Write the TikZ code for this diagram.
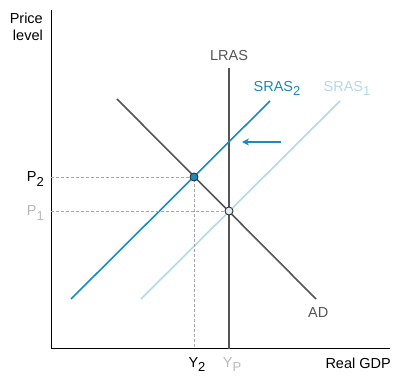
\documentclass[tikz,border=0pt]{standalone}
\usepackage{fontspec}
\setmainfont{Liberation Sans}
\usetikzlibrary{positioning}
\usetikzlibrary{arrows.meta}
\definecolor{curvegray}{HTML}{555555}
\definecolor{srasblue}{HTML}{1A8AC0}
\definecolor{sraslight}{HTML}{B3DAE6}
\definecolor{labellight}{HTML}{B8B8B8}
\newcommand{\lowsub}[1]{\raisebox{-4.5pt}{\fontsize{13}{15}\selectfont #1}}
\tikzset{
  axisline/.style= {
    line width = 1pt,
    color = black
  },
  curve/.style= {
    line width = 1.6pt,
    color = #1
  },
  guide/.style= {
    dashed,
    dash pattern = on 3pt off 2pt,
    line width = 0.5pt,
    color = black!35
  },
  eqpoint/.style= {
    circle,
    draw = black!80,
    fill = #1,
    line width = 0.9pt,
    inner sep = 0pt,
    minimum size = 8pt
  },
  lbl/.style= {
    font = \fontsize{14.5}{16.5}\selectfont,
    inner sep = 0pt,
    text = #1
  }
}
\begin{document}
\begin{tikzpicture}[x=1pt,y=-1pt]
  \useasboundingbox (0,0) rectangle (400,385);

  % axes
  \coordinate (origin) at (51,349);
  \coordinate (ytop) at (51,10);
  \coordinate (xend) at (390,349);
  \draw[axisline] (ytop) -- (origin) -- (xend);
  \node[lbl=black,align=right,anchor=north east] (ylab) at (43,13) {Price\\level};
  \node[lbl=black,anchor=base east] (xlab) at (391,369) {Real GDP};

  % LRAS
  \coordinate (lrastop) at (229,68);
  \coordinate (lrasbot) at (229,349);
  \draw[curve=curvegray] (lrastop) -- (lrasbot);
  \node[lbl=curvegray,above=7pt of lrastop] (lraslab) {LRAS};

  % AD
  \coordinate (adtop) at (117,99);
  \coordinate (adbot) at (316,299);
  \draw[curve=curvegray] (adtop) -- (adbot);
  \node[lbl=curvegray,below right=8pt and -8pt of adbot] (adlab) {AD};

  % SRAS curves
  \coordinate (s2bot) at (71,299);
  \coordinate (s2top) at (270,101);
  \draw[curve=srasblue] (s2bot) -- (s2top);
  \node[lbl=srasblue,above=5pt of s2top,xshift=7pt] (s2lab) {SRAS\lowsub{2}};
  \coordinate (s1bot) at (141,299);
  \coordinate (s1top) at (340,101);
  \draw[curve=sraslight] (s1bot) -- (s1top);
  \node[lbl=sraslight,above=5pt of s1top,xshift=7pt] (s1lab) {SRAS\lowsub{1}};

  % shift arrow
  \coordinate (shiftfrom) at (281,142);
  \coordinate (shiftto) at (242,142);
  \draw[curve=srasblue,line width=1.3pt,-{Stealth[length=7pt,width=7pt]}] (shiftfrom) -- (shiftto);

  % guides
  \coordinate (p2axis) at (51,177);
  \coordinate (p1axis) at (51,211);
  \coordinate (y2axis) at (194,349);
  \draw[guide] (p2axis) -- (194,177) -- (y2axis);
  \draw[guide] (p1axis) -- (229,211);

  % equilibria
  \node[eqpoint=srasblue] (eq2) at (194,177) {};
  \node[eqpoint=sraslight!40] (eq1) at (229,211) {};

  % axis labels
  \node[lbl=black,left=7pt of p2axis,yshift=-2pt] (p2lab) {P\lowsub{2}};
  \node[lbl=labellight,left=7pt of p1axis,yshift=-2pt] (p1lab) {P\lowsub{1}};
  \node[lbl=black,below=8pt of y2axis,xshift=3pt] (y2lab) {Y\lowsub{2}};
  \node[lbl=labellight,below=8pt of lrasbot,xshift=3pt] (yplab) {Y\lowsub{P}};
\end{tikzpicture}
\end{document}
